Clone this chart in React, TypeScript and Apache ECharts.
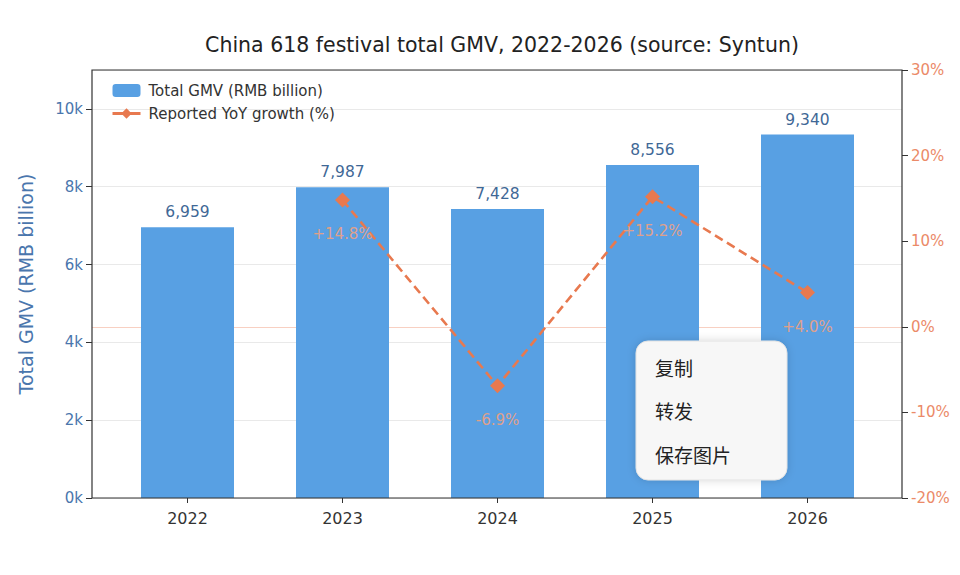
import React, { useEffect, useRef } from "react";
import * as echarts from "echarts";

const years = ["2022", "2023", "2024", "2025", "2026"];
const gmv = [6959, 7987, 7428, 8556, 9340];
const yoy: (number | null)[] = [null, 14.8, -6.9, 15.2, 4.0];
const menuItems = ["复制", "转发", "保存图片"];

const FONT = "DejaVu Sans";
const BLUE = "#58a0e3";
const ORANGE = "#e8794f";
const AXIS_BLUE = "#4a76ad";
const AXIS_ORANGE = "#eb8a68";

const GMV_MIN = 0;
const GMV_MAX = 11000;
const PCT_MIN = -20;
const PCT_MAX = 30;

export default function App() {
  const ref = useRef<HTMLDivElement>(null);

  useEffect(() => {
    if (!ref.current) return;
    const chart = echarts.init(ref.current, undefined, { renderer: "svg" });

    const fmtPct = (v: number) => (v > 0 ? "+" : "") + v.toFixed(1) + "%";

    chart.setOption({
      animation: false,
      backgroundColor: "#ffffff",
      textStyle: { fontFamily: FONT },
      title: {
        text: "China 618 festival total GMV, 2022-2026 (source: Syntun)",
        left: 497,
        textAlign: "center",
        top: 29,
        textStyle: { fontFamily: FONT, fontSize: 20.5, fontWeight: "normal", color: "#222" },
      },
      legend: {
        orient: "vertical",
        left: 106,
        top: 78,
        itemWidth: 28,
        itemHeight: 13,
        itemGap: 8,
        textStyle: { fontFamily: FONT, fontSize: 15, color: "#333", padding: [0, 0, 0, 3] },
        data: [
          { name: "Total GMV (RMB billion)" },
          { name: "Reported YoY growth (%)", lineStyle: { type: "solid", width: 3 } },
        ],
      },
      // grid 0: where the bars and line sit; grid 1: full plot frame for axes and gridlines
      grid: [
        { left: 110, right: 75, top: 70, bottom: 77 },
        { left: 92, right: 58, top: 70, bottom: 77 },
      ],
      xAxis: [
        {
          type: "category",
          gridIndex: 0,
          data: years,
          axisLine: { show: false },
          axisTick: { show: true, alignWithLabel: true, length: 5, lineStyle: { color: "#333" } },
          axisLabel: { fontFamily: FONT, fontSize: 16, color: "#333", margin: 12 },
        },
        { type: "category", gridIndex: 1, data: years, show: false },
      ],
      yAxis: [
        { type: "value", gridIndex: 0, min: GMV_MIN, max: GMV_MAX, show: false, splitLine: { show: false } },
        { type: "value", gridIndex: 0, min: PCT_MIN, max: PCT_MAX, show: false, splitLine: { show: false } },
        {
          type: "value",
          gridIndex: 1,
          min: GMV_MIN,
          max: GMV_MAX,
          interval: 2000,
          position: "left",
          name: "Total GMV (RMB billion)",
          nameLocation: "middle",
          nameGap: 57,
          nameTextStyle: { fontFamily: FONT, fontSize: 19, color: AXIS_BLUE },
          axisLine: { show: false },
          axisTick: { show: true, length: 6, lineStyle: { color: "#333" } },
          axisLabel: {
            fontFamily: FONT,
            fontSize: 15,
            color: AXIS_BLUE,
            margin: 9,
            showMaxLabel: false,
            formatter: (v: number) => v / 1000 + "k",
          },
          splitLine: { show: true, lineStyle: { color: "#e9e9e9", width: 1 } },
        },
        {
          type: "value",
          gridIndex: 1,
          min: PCT_MIN,
          max: PCT_MAX,
          interval: 10,
          position: "right",
          axisLine: { show: false },
          axisTick: { show: true, length: 6, lineStyle: { color: "#333" } },
          axisLabel: {
            fontFamily: FONT,
            fontSize: 15,
            color: AXIS_ORANGE,
            margin: 9,
            formatter: (v: number) => v + "%",
          },
          splitLine: { show: false },
        },
      ],
      series: [
        {
          // zero-growth reference line across the whole frame, behind the bars
          name: "zero",
          type: "line",
          xAxisIndex: 1,
          yAxisIndex: 3,
          data: years.map(() => null),
          symbol: "none",
          z: 0,
          markLine: {
            z: 1,
            silent: true,
            symbol: "none",
            label: { show: false },
            lineStyle: { color: "#f8d0c2", width: 1, type: "solid" },
            data: [{ yAxis: 0 }],
          },
        },
        {
          name: "Total GMV (RMB billion)",
          type: "bar",
          xAxisIndex: 0,
          yAxisIndex: 0,
          data: gmv,
          barWidth: "60%",
          itemStyle: { color: BLUE },
          label: {
            show: true,
            position: "top",
            distance: 7,
            fontFamily: FONT,
            fontSize: 15.5,
            color: "#3f6896",
            formatter: (p: any) => Number(p.value).toLocaleString("en-US"),
          },
          z: 2,
        },
        {
          name: "Reported YoY growth (%)",
          type: "line",
          xAxisIndex: 0,
          yAxisIndex: 1,
          data: yoy,
          symbol: "diamond",
          symbolSize: 15,
          itemStyle: { color: ORANGE },
          lineStyle: { color: ORANGE, width: 2.6, type: [9, 5] },
          label: {
            show: true,
            position: "bottom",
            distance: 19,
            fontFamily: FONT,
            fontSize: 15,
            color: "rgba(240,160,128,0.9)",
            formatter: (p: any) => fmtPct(Number(p.value)),
          },
          z: 5,
        },
      ],
      graphic: [
        {
          type: "rect",
          z: 100,
          silent: true,
          shape: { x: 92, y: 70, width: 810, height: 428 },
          style: { fill: "none", stroke: "#333", lineWidth: 1.2 },
        },
        {
          type: "rect",
          z: 200,
          shape: { x: 636, y: 341, width: 151, height: 139, r: 12 },
          style: {
            fill: "#f7f7f7",
            stroke: "#e2e2e2",
            lineWidth: 1,
            shadowBlur: 8,
            shadowColor: "rgba(0,0,0,0.15)",
          },
        },
        ...menuItems.map((t, i) => ({
          type: "text",
          z: 201,
          x: 655,
          y: 367 + i * 43.5,
          style: {
            text: t,
            fontFamily: "Noto Sans CJK SC",
            fontSize: 19,
            fill: "#222",
            textVerticalAlign: "middle",
          },
        })),
      ],
    });

    return () => chart.dispose();
  }, []);

  return (
    <div
      ref={ref}
      style={{ position: "fixed", left: 0, top: 0, width: 960, height: 575 }}
    />
  );
}
